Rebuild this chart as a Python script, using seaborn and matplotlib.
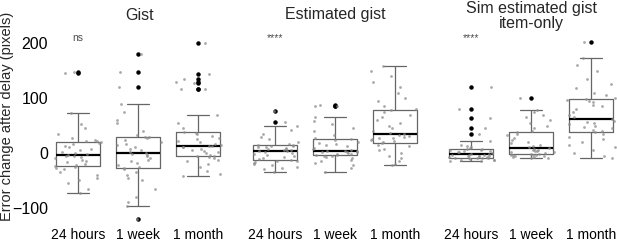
import numpy as np
import pandas as pd
import matplotlib
matplotlib.use("Agg")
import matplotlib.pyplot as plt
import seaborn as sns

panels = ["Gist", "Estimated gist", "Sim estimated gist\nitem-only"]
delays = ["24 hours", "1 week", "1 month"]
signif = ["ns", "****", "****"]
yticks = [-100, 0, 100, 200]

# values (pixels), one list per box
gist_24h = [-73, -65, -55, -50, -45, -40, -35, -30, -27, -25, -24,
            -22, -20, -17, -15, -12, -10, -8, -6, -5, -4,
            -2, 0, 2, 5, 8, 10, 13, 16, 18, 20,
            21, 22, 24, 28, 35, 45, 52, 73, 145, 147]
gist_1w = [-120, -96, -90, -80, -65, -50, -45, -40, -35, -30, -28,
           -25, -22, -18, -15, -12, -9, -6, -4, -2, 0,
           2, 5, 8, 10, 14, 17, 20, 24, 27, 29,
           30, 32, 40, 55, 60, 75, 89, 120, 148, 180]
gist_1m = [-42, -38, -32, -25, -20, -15, -12, -10, -8, -6, -5,
           -3, 0, 2, 4, 6, 8, 10, 11, 12, 13,
           15, 17, 20, 22, 25, 28, 31, 34, 36, 38,
           45, 55, 70, 116, 116, 127, 130, 134, 143, 200]
est_24h = [-34, -30, -28, -25, -22, -20, -18, -16, -15, -14, -13,
           -11, -9, -7, -5, -3, -1, 0, 2, 3, 4,
           5, 6, 7, 8, 9, 10, 11, 12, 13, 14,
           15, 17, 20, 25, 30, 35, 42, 50, 56, 76]
est_1w = [-34, -28, -22, -18, -15, -12, -9, -7, -6, -5, -4,
          -3, -2, -1, 0, 1, 2, 2, 3, 3, 4,
          5, 7, 9, 12, 14, 16, 18, 20, 23, 25,
          28, 32, 40, 45, 52, 58, 65, 85, 86, 88]
est_1m = [-22, -20, -15, -10, -5, 0, 5, 8, 12, 15, 18,
          20, 22, 24, 26, 27, 28, 30, 31, 33, 34,
          36, 40, 45, 50, 55, 60, 65, 70, 75, 78,
          80, 85, 95, 100, 110, 120, 130, 140, 150, 159]
sim_24h = [-15, -14, -13, -12, -12, -11, -10, -10, -10, -9, -9,
           -8, -7, -6, -6, -5, -5, -4, -3, -3, -2,
           -1, 0, 1, 2, 3, 4, 5, 6, 7, 8,
           9, 10, 12, 15, 22, 35, 46, 63, 81, 121]
sim_1w = [-10, -9, -8, -7, -6, -5, -4, -4, -3, -3, -2,
          -1, 0, 1, 2, 3, 4, 5, 6, 8, 9,
          10, 12, 15, 18, 20, 24, 28, 32, 35, 38,
          40, 45, 50, 55, 60, 65, 70, 75, 78, 100]
sim_1m = [-10, -5, 0, 5, 10, 15, 20, 25, 30, 35, 38,
          40, 42, 45, 48, 50, 53, 55, 57, 59, 61,
          65, 70, 75, 80, 85, 88, 92, 95, 97, 99,
          100, 105, 110, 118, 125, 135, 150, 160, 173, 202]

groups = {
    panels[0]: [gist_24h, gist_1w, gist_1m],
    panels[1]: [est_24h, est_1w, est_1m],
    panels[2]: [sim_24h, sim_1w, sim_1m],
}

rows = []
for p, lists in groups.items():
    for d, vals in zip(delays, lists):
        for v in vals:
            rows.append((p, d, v))
df = pd.DataFrame(rows, columns=["panel", "delay", "error"])

sns.set_style("white")
plt.rcParams["font.family"] = ["Liberation Sans", "DejaVu Sans"]
np.random.seed(3)

fig = plt.figure(figsize=(6.17, 2.42), dpi=100)
W, H = 617, 242
lefts = [48, 245, 441]
ylim = (-133, 224)

for i, p in enumerate(panels):
    ax = fig.add_axes([lefts[i] / W, (H - 226) / H, 180 / W, 196 / H])
    sub = df[df["panel"] == p]
    sns.boxplot(data=sub, x="delay", y="error", order=delays, ax=ax,
                fill=False, color="0.4", width=0.73, linewidth=0.9,
                medianprops=dict(color="black", linewidth=1.6),
                flierprops=dict(marker="o", markersize=2.2,
                                markerfacecolor="black", markeredgecolor="black"))
    sns.stripplot(data=sub, x="delay", y="error", order=delays, ax=ax,
                  jitter=0.4, size=2.0, color="0.55", alpha=0.75, linewidth=0)
    ax.set_xlim(-0.5, 2.5)
    ax.set_ylim(*ylim)
    ax.set_xlabel("")
    ax.set_ylabel("")
    for s in ax.spines.values():
        s.set_visible(False)
    ax.tick_params(axis="x", length=0, pad=1.5, labelsize=10, colors="black")
    if i == 0:
        ax.set_yticks(yticks)
        ax.tick_params(axis="y", length=0, pad=0, labelsize=11.5, colors="black")
    else:
        ax.set_yticks([])
    ax.text(0, 210, signif[i], ha="center", va="center", fontsize=7.5, color="0.3")
    ax.patch.set_visible(False)

fig.text(140 / W, 1 - 15 / H, panels[0], ha="center", va="center", fontsize=11.5)
fig.text(335 / W, 1 - 15 / H, panels[1], ha="center", va="center", fontsize=11.5)
fig.text(531 / W, 1 - 16 / H, panels[2], ha="center", va="center", fontsize=11.5,
         linespacing=1.05)
fig.text(7 / W, 1 - 116 / H, "Error change after delay (pixels)", rotation=90,
         ha="center", va="center", fontsize=10.5)

fig.savefig("out.png", dpi=100)
